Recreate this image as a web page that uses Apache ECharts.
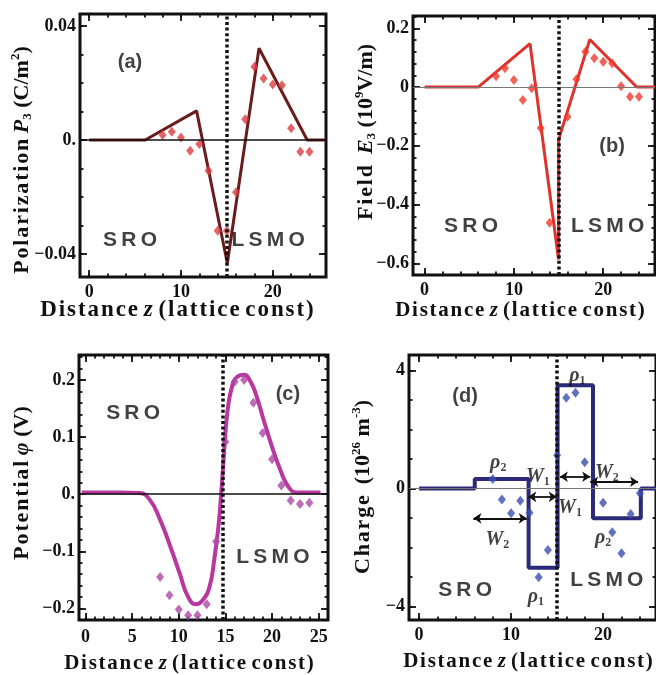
<!DOCTYPE html>
<html>
<head>
<meta charset="utf-8">
<script src="https://cdn.jsdelivr.net/npm/echarts@6/dist/echarts.min.js"></script>
<style>
  html, body { margin: 0; padding: 0; background: #fff; }
  #chart { width: 656px; height: 675px; }
</style>
</head>
<body>
<div id="chart"></div>
<script>
// ---- panel (a): polarization P3 ----
const aPointZ = [8, 9, 10, 11, 12, 13, 14, 15, 16, 17, 18, 19, 20, 21, 22, 23, 24];
const aPointP = [0.0017, 0.0029, 0.0009, -0.0038, -0.0014, -0.0108, -0.0319, -0.0319, -0.0184,
  0.0073, 0.0257, 0.0216, 0.0195, 0.0192, 0.0041, -0.0041, -0.0041];
const aLineZ = [0, 6.1, 11.7, 15.05, 18.5, 23.75, 25.8];
const aLineP = [0, 0, 0.0102, -0.0433, 0.0322, 0, 0];

// ---- panel (b): field E3 ----
const bPointZ = [8, 9, 10, 11, 12, 13, 14, 16, 17, 18, 19, 20, 21, 22, 23, 24];
const bPointE = [0.037, 0.064, 0.024, -0.044, -0.004, -0.139, -0.462, -0.101, 0.027,
  0.12, 0.098, 0.086, 0.081, 0.003, -0.033, -0.033];
const bLineZ = [0, 6.0, 11.8, 15.0, 15.0, 18.5, 23.75, 25.8];
const bLineE = [0, 0, 0.148, -0.587, -0.18, 0.162, 0, 0];

// ---- panel (c): potential phi ----
const cPointZ = [8, 9, 10, 11, 12, 13, 14, 15, 16, 17, 18, 19, 20, 21, 22, 23, 24];
const cPointV = [-0.145, -0.177, -0.202, -0.212, -0.212, -0.193, -0.083, 0.092, 0.197,
  0.2, 0.16, 0.107, 0.061, 0.015, -0.011, -0.017, -0.015];
const cCurveZ = [-0.4, 3.7, 5.8, 6.9, 8.0, 9.1, 10.1, 11.0, 11.85, 12.6, 13.3, 13.8, 14.25,
  14.55, 14.85, 15.2, 15.7, 16.3, 17.0, 17.7, 18.35, 19.1, 20.0, 20.9, 21.75, 22.65, 25.2];
const cCurveV = [0.003, 0.003, 0.002, -0.010, -0.045, -0.092, -0.139, -0.180, -0.193, -0.185,
  -0.162, -0.115, -0.057, 0.002, 0.072, 0.142, 0.188, 0.206, 0.209, 0.197, 0.171, 0.13,
  0.083, 0.042, 0.013, 0.003, 0.003];

// ---- panel (d): charge ----
const dPointZ = [8, 9, 10, 11, 12, 13, 14, 15, 16, 17, 18, 20, 21, 22, 23, 24];
const dPointQ = [0.32, -0.37, -0.84, -0.41, -0.82, -3.0, -2.08, 1.13, 3.07, 3.24, 0.89,
  -0.48, -1.48, -2.19, -0.86, -0.16];
const dStepZ = [0, 6.05, 11.9, 15.05, 18.9, 24.1, 25.75];
const dStepQ = [0, 0.32, -2.68, 3.5, -1.01, 0, 0];
// double arrows: [from z, to z, level]
const dArrows = [[5.9, 11.7, -1.01], [11.87, 14.96, -0.28], [15.3, 18.6, 0.40], [18.6, 23.8, 0.23]];

// interface position per panel
const interfaceZ = [15, 15, 14.7, 15];

// ---- ticks ----
const ticksEven = [0, 2, 4, 6, 8, 10, 12, 14, 16, 18, 20, 22, 24];
const ticksOne = [0, 1, 2, 3, 4, 5, 6, 7, 8, 9, 10, 11, 12, 13, 14, 15, 16, 17, 18, 19, 20, 21, 22, 23, 24, 25];
const xMajor10 = [0, 10, 20];
const xLabels10 = ['0', '10', '20'];
const xMajor5 = [0, 5, 10, 15, 20, 25];
const xLabels5 = ['0', '5', '10', '15', '20', '25'];
const aYMajor = [-0.04, 0, 0.04];
const aYLabels = ['\u22120.04', '0.', '0.04'];
const aYMinor = [-0.04, -0.03, -0.02, -0.01, 0, 0.01, 0.02, 0.03, 0.04];
const bYMajor = [-0.6, -0.4, -0.2, 0, 0.2];
const bYLabels = ['\u22120.6', '\u22120.4', '\u22120.2', '0', '0.2'];
const bYMinor = [-0.6, -0.56, -0.52, -0.48, -0.44, -0.4, -0.36, -0.32, -0.28, -0.24, -0.2, -0.16,
  -0.12, -0.08, -0.04, 0, 0.04, 0.08, 0.12, 0.16, 0.2, 0.24];
const cYMajor = [-0.2, -0.1, 0, 0.1, 0.2];
const cYLabels = ['\u22120.2', '\u22120.1', '0.', '0.1', '0.2'];
const cYMinor = [-0.2, -0.18, -0.16, -0.14, -0.12, -0.1, -0.08, -0.06, -0.04, -0.02, 0, 0.02, 0.04,
  0.06, 0.08, 0.1, 0.12, 0.14, 0.16, 0.18, 0.2, 0.22, 0.24];
const dYMajor = [-4, 0, 4];
const dYLabels = ['\u22124', '0', '4'];
const dYMinor = [-4, -3, -2, -1, 0, 1, 2, 3, 4];

const SERIF = '"Liberation Serif", "Times New Roman", serif';
const SANS = '"Liberation Sans", Arial, sans-serif';
const INK = '#111';
const spaced = (s, sp) => s.split('').join(sp || '\u200A');

const zip = (xs, ys) => xs.map((x, i) => [x, ys[i]]);

const panels = [
  {
    grid: { left: 80, top: 14, width: 246, height: 263 },
    x: { min: -1, max: 25.8, major: xMajor10, labels: xLabels10, minor: ticksEven, margin: 6 },
    y: { min: -0.0481, max: 0.0442, major: aYMajor, labels: aYLabels, minor: aYMinor, margin: 4 }
  },
  {
    grid: { left: 413, top: 16, width: 242, height: 259 },
    x: { min: -1.3, max: 25.8, major: xMajor10, labels: xLabels10, minor: ticksEven, margin: 6 },
    y: { min: -0.64, max: 0.242, major: bYMajor, labels: bYLabels, minor: bYMinor, margin: 4 }
  },
  {
    grid: { left: 79, top: 355, width: 249, height: 265 },
    x: { min: -0.7, max: 26, major: xMajor5, labels: xLabels5, minor: ticksOne, margin: 8 },
    y: { min: -0.2204, max: 0.2438, major: cYMajor, labels: cYLabels, minor: cYMinor, margin: 4 }
  },
  {
    grid: { left: 409, top: 355, width: 247, height: 265 },
    x: { min: -1.1, max: 25.75, major: xMajor10, labels: xLabels10, minor: ticksEven, margin: 6 },
    y: { min: -4.45, max: 4.52, major: dYMajor, labels: dYLabels, minor: dYMinor, margin: 4 }
  }
];

const grids = [];
const xAxes = [];
const yAxes = [];

panels.forEach((p, gi) => {
  grids.push(Object.assign({ show: true, borderColor: INK, borderWidth: 3, backgroundColor: 'transparent', containLabel: false, outerBoundsMode: 'none' }, p.grid));
  const base = { gridIndex: gi, type: 'value', splitLine: { show: false }, axisLine: { show: false, onZero: false } };
  const tick = (vals, len) => ({ show: true, inside: true, length: len, customValues: vals, lineStyle: { color: INK, width: 1.8 } });
  const lab = (c) => ({
    show: true, customValues: c.major, margin: c.margin, color: INK,
    fontFamily: SERIF, fontWeight: 'bold', fontSize: 18,
    formatter: (v) => c.labels[c.major.findIndex((m) => Math.abs(m - v) < 1e-9)] || ''
  });
  ['bottom', 'top'].forEach((pos) => {
    xAxes.push(Object.assign({}, base, { position: pos, min: p.x.min, max: p.x.max, axisTick: tick(p.x.major, 7), axisLabel: pos === 'bottom' ? lab(p.x) : { show: false } }));
    xAxes.push(Object.assign({}, base, { position: pos, min: p.x.min, max: p.x.max, axisTick: tick(p.x.minor, 3.5), axisLabel: { show: false } }));
  });
  ['left', 'right'].forEach((pos) => {
    yAxes.push(Object.assign({}, base, { position: pos, min: p.y.min, max: p.y.max, axisTick: tick(p.y.major, 7), axisLabel: pos === 'left' ? lab(p.y) : { show: false } }));
    yAxes.push(Object.assign({}, base, { position: pos, min: p.y.min, max: p.y.max, axisTick: tick(p.y.minor, 3.5), axisLabel: { show: false } }));
  });
});

// rich styles for annotations
const RICH = {
  tag: { fontFamily: SANS, fontWeight: 'bold', fontSize: 20, color: INK, fill: INK },
  reg: { fontFamily: SANS, fontWeight: 'bold', fontSize: 21, color: INK, fill: INK },
  sym: { fontFamily: SERIF, fontWeight: 'bold', fontStyle: 'italic', fontSize: 20, lineHeight: 22, color: INK, fill: INK },
  sub: { fontFamily: SERIF, fontWeight: 'bold', fontSize: 12, lineHeight: 12, verticalAlign: 'bottom', color: INK, fill: INK }
};

const noteSRO = '{reg|' + spaced('SRO', '\u2009') + '}';
const noteLSMO = '{reg|' + spaced('LSMO', '\u2009') + '}';
const aNotes = [['{tag|(a)}', 4.45, 0.0273], [noteSRO, 4.45, -0.0351], [noteLSMO, 19.5, -0.0351]];
const bNotes = [['{tag|(b)}', 21.0, -0.204], [noteSRO, 5.2, -0.474], [noteLSMO, 20.5, -0.474]];
const cNotes = [['{tag|(c)}', 21.7, 0.174], [noteSRO, 5.1, 0.142], [noteLSMO, 20.1, -0.110]];
const dNotes = [
  ['{tag|(d)}', 5.0, 3.1], [noteSRO, 5.0, -3.44], [noteLSMO, 20.4, -3.1],
  ['{sym|\u03C1}{sub|1}', 17.2, 3.81], ['{sym|\u03C1}{sub|2}', 8.6, 0.86],
  ['{sym|W}{sub|1}', 12.9, 0.39], ['{sym|W}{sub|1}', 16.4, -0.66],
  ['{sym|W}{sub|2}', 20.4, 0.52], ['{sym|W}{sub|2}', 8.5, -1.74],
  ['{sym|\u03C1}{sub|2}', 20.0, -1.68], ['{sym|\u03C1}{sub|1}', 12.7, -3.67]
];

const series = [];
const ax = (gi) => ({ xAxisIndex: gi * 4, yAxisIndex: gi * 4 });

function addPanel(gi, lineData, lineOpts, pts, ptColor, ptSize, notes, zeroStyle) {
  // zero reference line underneath
  series.push(Object.assign({
    type: 'scatter', data: pts, symbolSize: 0, silent: true, z: 1,
    markLine: { silent: true, symbol: ['none', 'none'], label: { show: false }, data: [{ yAxis: 0, lineStyle: zeroStyle }] }
  }, ax(gi)));
  series.push(Object.assign({ type: 'line', data: lineData, symbol: 'none', silent: true, z: 3 }, lineOpts, ax(gi)));
  series.push(Object.assign({
    type: 'scatter', data: pts, symbol: 'diamond', symbolSize: ptSize, silent: true, z: 4,
    itemStyle: { color: ptColor }
  }, ax(gi)));
  // interface dotted line on top
  series.push(Object.assign({
    type: 'scatter', data: pts, symbolSize: 0, silent: true, z: 5,
    markLine: {
      silent: true, symbol: ['none', 'none'], label: { show: false },
      data: [{ xAxis: interfaceZ[gi], lineStyle: { color: INK, width: 3.5, type: [3, 2.6], cap: 'butt' } }]
    }
  }, ax(gi)));
  series.push(Object.assign({
    type: 'scatter', symbolSize: 1, silent: true, z: 6, itemStyle: { color: 'rgba(0,0,0,0)' },
    data: notes.map((n) => ({
      value: [n[1], n[2]],
      label: { show: true, position: 'inside', color: INK, formatter: () => n[0], rich: RICH }
    }))
  }, ax(gi)));
}

addPanel(0, zip(aLineZ, aLineP), { lineStyle: { color: '#6a1b1b', width: 3 } },
  zip(aPointZ, aPointP), '#da3e42', [8, 10], aNotes, { color: INK, width: 1.5, type: 'solid' });
addPanel(1, zip(bLineZ, bLineE), { lineStyle: { color: '#e0322c', width: 3 } },
  zip(bPointZ, bPointE), '#f03a2e', [8, 10], bNotes, { color: '#777', width: 1, type: 'solid' });
addPanel(2, zip(cCurveZ, cCurveV), { smooth: 0.5, lineStyle: { color: '#b8389f', width: 4 } },
  zip(cPointZ, cPointV), '#ad48a6', [8, 10], cNotes, { color: INK, width: 1.5, type: 'solid' });
addPanel(3, zip(dStepZ, dStepQ), { step: 'end', lineStyle: { color: '#2a2a78', width: 4 } },
  zip(dPointZ, dPointQ), '#3a4db0', [8, 10], dNotes, { color: '#777', width: 1, type: 'solid' });

// W arrows in panel (d)
series.push(Object.assign({
  type: 'scatter', data: zip(dPointZ, dPointQ), symbolSize: 0, silent: true, z: 6,
  markLine: {
    silent: true, symbol: ['arrow', 'arrow'], symbolSize: 8, label: { show: false },
    lineStyle: { color: INK, width: 1.8, type: 'solid' },
    data: dArrows.map((a) => [{ coord: [a[0], a[2]] }, { coord: [a[1], a[2]] }])
  }
}, ax(3)));

// axis titles
function titleRich(size) {
  return {
    t: { fontFamily: SERIF, fontWeight: 'bold', fontSize: size, lineHeight: size + 3, fill: INK },
    it: { fontFamily: SERIF, fontWeight: 'bold', fontStyle: 'italic', fontSize: size, lineHeight: size + 3, fill: INK },
    sub: { fontFamily: SERIF, fontWeight: 'bold', fontSize: 13, lineHeight: 13, verticalAlign: 'bottom', fill: INK },
    sup: { fontFamily: SERIF, fontWeight: 'bold', fontSize: 13, lineHeight: 13, verticalAlign: 'top', fill: INK }
  };
}
const xTitle = '{t|' + spaced('Distance') + ' }{it|z}{t| ' + spaced('(lattice') + ' ' + spaced('const)') + '}';
function titleText(x, y, rot, text, size) {
  return {
    type: 'text', x: x, y: y, rotation: rot, silent: true, z: 10,
    style: { text: text, rich: titleRich(size), align: 'center', verticalAlign: 'middle', fill: INK }
  };
}
const graphics = [
  titleText(177, 310, 0, xTitle, 23),
  titleText(520, 311, 0, xTitle, 21),
  titleText(189, 664, 0, xTitle, 21),
  titleText(528, 662, 0, xTitle, 21),
  titleText(22, 160, Math.PI / 2, '{t|' + spaced('Polarization') + ' }{it|P}{sub|3}{t| (C/m}{sup|2}{t|)}', 22),
  titleText(366, 132, Math.PI / 2, '{t|' + spaced('Field') + '  }{it|E}{sub|3}{t| (10}{sup|9}{t|V/m)}', 22),
  titleText(22, 483, Math.PI / 2, '{t|' + spaced('Potential') + ' }{it|\u03C6}{t| (V)}', 22),
  titleText(363, 487, Math.PI / 2, '{t|' + spaced('Charge') + '  (10}{sup|26}{t| m}{sup|-3}{t|)}', 22)
];

const chart = echarts.init(document.getElementById('chart'));
chart.setOption({
  animation: false,
  backgroundColor: '#fff',
  grid: grids,
  xAxis: xAxes,
  yAxis: yAxes,
  series: series,
  graphic: graphics
});
</script>
</body>
</html>
